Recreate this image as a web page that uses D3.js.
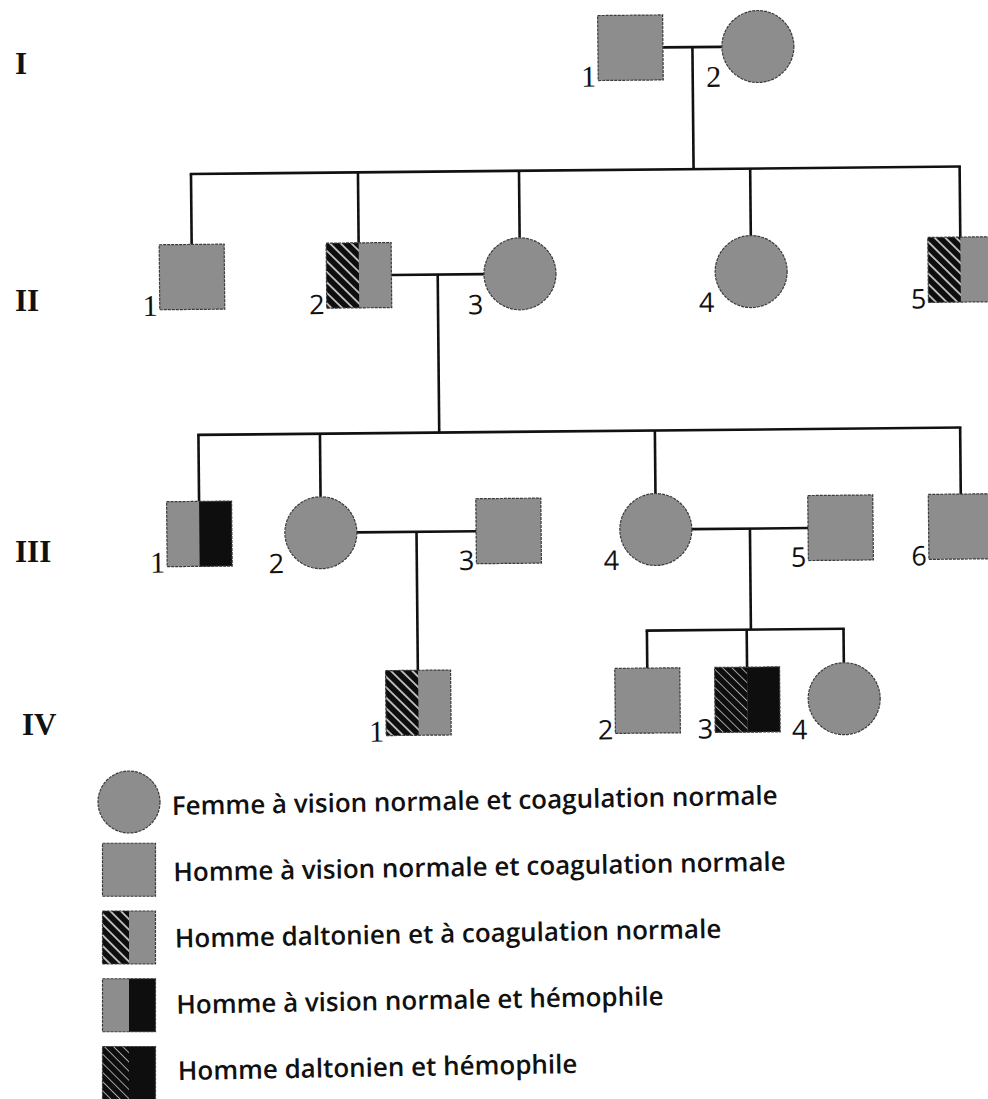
<!DOCTYPE html>
<html><head><meta charset="utf-8">
<script src="https://cdn.jsdelivr.net/npm/d3@7"></script>
<style>body{margin:0;background:#fff}</style>
</head><body><svg id="c" width="988" height="1099"></svg>
<script>
// ---- data ----
const generations = ["I", "II", "III", "IV"];
// col: position on a 0-100 horizontal grid of the pedigree
const people = [
  {id:"I-1",  gen:"I",   n:1, sex:"M", pheno:"normal", col:64.2},
  {id:"I-2",  gen:"I",   n:2, sex:"F", pheno:"normal", col:77.1},
  {id:"II-1", gen:"II",  n:1, sex:"M", pheno:"normal", col:19.6},
  {id:"II-2", gen:"II",  n:2, sex:"M", pheno:"dalton", col:36.5},
  {id:"II-3", gen:"II",  n:3, sex:"F", pheno:"normal", col:52.8},
  {id:"II-4", gen:"II",  n:4, sex:"F", pheno:"normal", col:76.2},
  {id:"II-5", gen:"II",  n:5, sex:"M", pheno:"dalton", col:97.4},
  {id:"III-1",gen:"III", n:1, sex:"M", pheno:"hemo",   col:20.1},
  {id:"III-2",gen:"III", n:2, sex:"F", pheno:"normal", col:32.4},
  {id:"III-3",gen:"III", n:3, sex:"M", pheno:"normal", col:51.4},
  {id:"III-4",gen:"III", n:4, sex:"F", pheno:"normal", col:66.3},
  {id:"III-5",gen:"III", n:5, sex:"M", pheno:"normal", col:85.0},
  {id:"III-6",gen:"III", n:6, sex:"M", pheno:"normal", col:97.2},
  {id:"IV-1", gen:"IV",  n:1, sex:"M", pheno:"dalton", col:42.1},
  {id:"IV-2", gen:"IV",  n:2, sex:"M", pheno:"normal", col:65.3},
  {id:"IV-3", gen:"IV",  n:3, sex:"M", pheno:"both",   col:75.4},
  {id:"IV-4", gen:"IV",  n:4, sex:"F", pheno:"normal", col:85.2}
];
const unions = [
  {a:"I-1",   b:"I-2",   children:["II-1","II-2","II-3","II-4","II-5"]},
  {a:"II-2",  b:"II-3",  children:["III-1","III-2","III-4","III-6"]},
  {a:"III-2", b:"III-3", children:["IV-1"]},
  {a:"III-4", b:"III-5", children:["IV-2","IV-3","IV-4"]}
];
const legendLabels = [
  "Femme à vision normale et coagulation normale",
  "Homme à vision normale et coagulation normale",
  "Homme daltonien et à coagulation normale",
  "Homme à vision normale et hémophile",
  "Homme daltonien et hémophile"
];
const legendSex   = ["F", "M", "M", "M", "M"];
const legendPheno = ["normal", "normal", "dalton", "hemo", "both"];

// ---- layout / style ----
const W = 988, H = 1099;
const GRAY = "#8d8d8d", BLACK = "#0e0e0e", LINE = "#111";
const svg = d3.select("#c");
const x = d3.scaleLinear().domain([0, 100]).range([0, W]);
const y = d3.scaleOrdinal().domain(generations).range([49, 274, 531, 702]);
const sibY = d3.scaleOrdinal().domain(generations).range([0, 171, 432, 632]);
const genLabelY = d3.scaleOrdinal().domain(generations).range([74, 311, 562, 735]);
const S = 65, R = 36;

const defs = svg.append("defs");
function hatch(id, sp, lw, col) {
  const p = defs.append("pattern").attr("id", id).attr("patternUnits", "userSpaceOnUse")
    .attr("width", sp).attr("height", 20).attr("patternTransform", "rotate(-45)");
  p.append("rect").attr("width", sp).attr("height", 20).attr("fill", BLACK);
  p.append("line").attr("x1", sp/2).attr("x2", sp/2).attr("y1", 0).attr("y2", 20)
    .attr("stroke", col).attr("stroke-width", lw);
}
hatch("hatchA", 7.5, 1.5, "#e8e8e8");
hatch("hatchB", 6.5, 0.9, "#b5b5b5");

function symbol(g, sex, pheno, cx, cy, s, r) {
  if (sex === "F") {
    g.append("circle").attr("cx", cx).attr("cy", cy).attr("r", r)
      .attr("fill", GRAY).attr("stroke", "#3a3a3a").attr("stroke-width", 1.2).attr("stroke-dasharray", "3,1");
    return;
  }
  const l = cx - s/2, t = cy - s/2;
  g.append("rect").attr("x", l).attr("y", t).attr("width", s).attr("height", s).attr("fill", GRAY);
  const leftFill = {dalton: "url(#hatchA)", both: "url(#hatchB)"}[pheno];
  const rightFill = {hemo: BLACK, both: BLACK}[pheno];
  if (leftFill) g.append("rect").attr("x", l).attr("y", t).attr("width", s/2).attr("height", s).attr("fill", leftFill);
  if (rightFill) g.append("rect").attr("x", cx).attr("y", t).attr("width", s/2).attr("height", s).attr("fill", rightFill);
  g.append("rect").attr("x", l).attr("y", t).attr("width", s).attr("height", s)
    .attr("fill", "none").attr("stroke", "#3a3a3a").attr("stroke-width", 1.2).attr("stroke-dasharray", "3,1");
}

// ---- pedigree ----
const ped = svg.append("g").attr("transform", "rotate(-0.55, 500, 450)");
const byId = new Map(people.map(p => [p.id, p]));
const px = p => x(p.col), py = p => y(p.gen);
const edgeR = p => px(p) + (p.sex === "F" ? R : S/2);
const edgeL = p => px(p) - (p.sex === "F" ? R : S/2);
const topY = p => py(p) - (p.sex === "F" ? R : S/2);

const lines = ped.append("g").attr("stroke", LINE).attr("stroke-width", 2.6).attr("fill", "none");
unions.forEach(u => {
  let A = byId.get(u.a), B = byId.get(u.b);
  if (px(A) > px(B)) [A, B] = [B, A];
  const my = (py(A) + py(B)) / 2;
  const x0 = edgeR(A), x1 = edgeL(B);
  const dx = (x0 + x1) / 2;
  lines.append("line").attr("x1", x0).attr("x2", x1).attr("y1", my).attr("y2", my);
  const kids = u.children.map(id => byId.get(id));
  if (kids.length === 1) {
    lines.append("line").attr("x1", dx).attr("x2", dx).attr("y1", my).attr("y2", topY(kids[0]));
  } else {
    const sy = sibY(kids[0].gen);
    lines.append("line").attr("x1", dx).attr("x2", dx).attr("y1", my).attr("y2", sy);
    const xs = kids.map(px).concat([dx]);
    lines.append("line").attr("x1", d3.min(xs) - 1.3).attr("x2", d3.max(xs) + 1.3).attr("y1", sy).attr("y2", sy);
    kids.forEach(k => lines.append("line").attr("x1", px(k)).attr("x2", px(k)).attr("y1", sy).attr("y2", topY(k)));
  }
});

const syms = ped.append("g");
people.forEach(p => symbol(syms, p.sex, p.pheno, px(p), py(p), S, R));

ped.append("g").selectAll("text").data(people).join("text")
  .attr("x", p => p.sex === "F" ? px(p) - R - 1 : px(p) - S/2 - 2)
  .attr("y", p => p.sex === "F" ? py(p) + R + 4 : py(p) + S/2 + 6)
  .attr("text-anchor", "end")
  .attr("font-family", p => (p.gen === "I" || p.n === 1) ? "Liberation Serif, serif" : "'Open Sans', sans-serif")
  .attr("font-size", p => (p.gen === "I" || p.n === 1) ? 30 : 27).attr("fill", "#111")
  .text(p => p.n);

// generation labels
svg.append("g").selectAll("text").data(generations).join("text")
  .attr("x", (d, i) => i === 3 ? 22 : 15)
  .attr("y", d => genLabelY(d))
  .attr("font-family", "Liberation Serif, serif").attr("font-weight", "bold")
  .attr("font-size", 31).attr("fill", "#111")
  .text(d => d);

// ---- legend ----
const ly = d3.scaleLinear().domain([0, 4]).range([802, 1073]);
const leg = svg.append("g");
legendLabels.forEach((lab, i) => {
  symbol(leg, legendSex[i], legendPheno[i], 129, ly(i), 53, 31);
});
const lt = leg.append("g").selectAll("text").data(legendLabels).join("text")
  .attr("x", (d, i) => 172 + i * 1.5)
  .attr("y", (d, i) => ly(i) + 13 - i * 1.5)
  .attr("transform", (d, i) => `rotate(-1, ${172 + i*1.5}, ${ly(i) + 13 - i*1.5})`)
  .attr("font-family", "'Open Sans', Lato, sans-serif").attr("font-weight", 600)
  .attr("font-size", 24).attr("fill", "#111")
  .text(d => d);
// fit font size to reference line length
const w0 = lt.node().getComputedTextLength();
lt.attr("font-size", 24 * 606 / w0);
</script>
</body></html>
